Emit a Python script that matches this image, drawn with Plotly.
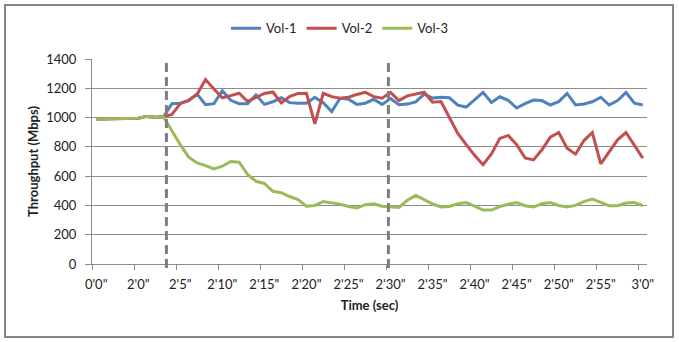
import plotly.graph_objects as go

# Category labels shown every fifth sample
tick_labels = ["0'0\"", "2'0\"", "2'5\"", "2'10\"", "2'15\"", "2'20\"", "2'25\"",
               "2'30\"", "2'35\"", "2'40\"", "2'45\"", "2'50\"", "2'55\"", "3'0\""]
samples_per_label = 5

# Throughput per sample (Mbps)
vol1 = [990, 990, 990, 990, 990, 995, 1008, 1002, 1005, 1095,
        1098, 1115, 1160, 1088, 1095, 1183, 1118, 1095, 1095, 1155,
        1090, 1108, 1135, 1102, 1098, 1098, 1138, 1102, 1041, 1132,
        1125, 1090, 1098, 1125, 1090, 1130, 1088, 1092, 1107, 1160,
        1133, 1139, 1135, 1085, 1072, 1120, 1172, 1103, 1142, 1118,
        1065, 1095, 1120, 1116, 1086, 1109, 1165, 1086, 1093, 1108,
        1139, 1086, 1116, 1172, 1098, 1086]
vol2 = [990, 990, 990, 990, 990, 995, 1008, 1002, 1005, 1022,
        1095, 1118, 1160, 1260, 1195, 1135, 1150, 1166, 1110, 1140,
        1165, 1175, 1100, 1143, 1165, 1166, 957, 1166, 1143, 1132,
        1139, 1158, 1173, 1143, 1132, 1172, 1116, 1148, 1160, 1173,
        1105, 1109, 1000, 892, 815, 742, 678, 752, 858, 878,
        815, 725, 711, 780, 866, 898, 791, 750, 843, 898,
        684, 768, 848, 898, 814, 723]
vol3 = [990, 990, 990, 990, 990, 995, 1008, 1002, 1005, 905,
        815, 730, 690, 672, 650, 668, 700, 695, 612, 565,
        550, 497, 487, 461, 440, 395, 400, 427, 420, 409,
        393, 382, 405, 411, 395, 393, 386, 435, 468, 440,
        410, 390, 393, 412, 420, 395, 368, 368, 392, 408,
        420, 398, 389, 411, 420, 400, 389, 400, 426, 443,
        420, 398, 398, 416, 420, 398]

# Sample positions of the two phase changes (dashed markers)
phase_marks = [8.35, 34.75]

series = [("Vol-1", vol1, "#4F81BD"),
          ("Vol-2", vol2, "#C0504D"),
          ("Vol-3", vol3, "#9BBB59")]

n = len(vol1)
x = list(range(n))
label_pos = x[::samples_per_label]
boundaries = [p - 0.5 for p in label_pos]

W, H = 679, 342
ML, MR, MT, MB = 92, 32, 59, 78
pw, ph = W - ML - MR, H - MT - MB

fig = go.Figure()
for name, vals, color in series:
    fig.add_trace(go.Scatter(x=x, y=vals, name=name, mode="lines",
                             line=dict(color=color, width=3)))

grid = "#8c8c8c"
font = "Lato, 'Open Sans', sans-serif"

for m in phase_marks:
    fig.add_shape(type="line", xref="x", yref="paper", x0=m, x1=m,
                  y0=-0.02, y1=1.0,
                  line=dict(color="#7f7f7f", width=3, dash="9px,5px"))

# outer chart frame
fig.add_shape(type="rect", xref="paper", yref="paper",
              x0=(5 - ML) / pw, x1=(W - 6 - ML) / pw,
              y0=-(H - 5 - (H - MB)) / ph, y1=(H - MB - 5) / ph,
              line=dict(color="#868686", width=2), fillcolor="rgba(0,0,0,0)")

# legend centred on the whole figure rather than the plot area
legend_x = (W / 2 - ML) / pw

fig.update_layout(
    width=W, height=H,
    margin=dict(l=ML, r=MR, t=MT, b=MB, autoexpand=False),
    paper_bgcolor="white", plot_bgcolor="white",
    font=dict(family=font, size=13, color="#222222"),
    showlegend=True,
    legend=dict(orientation="h", x=legend_x, xanchor="center",
                y=1.15, yanchor="middle", font=dict(size=13), itemwidth=30,
                bgcolor="rgba(0,0,0,0)"),
    xaxis=dict(
        range=[-0.5, n - 0.5],
        tickmode="array", tickvals=label_pos, ticktext=tick_labels,
        ticks="", showgrid=False, zeroline=False,
        showline=True, linecolor=grid, linewidth=1,
        ticklabelstandoff=8, tickangle=0,
        minor=dict(tickmode="array", tickvals=boundaries, ticks="outside",
                   ticklen=5, tickcolor=grid, tickwidth=1, showgrid=False),
        title=dict(text="<b>Time (sec)</b>", font=dict(size=13), standoff=10),
    ),
    yaxis=dict(
        range=[0, 1400], tickmode="linear", tick0=0, dtick=200,
        ticks="outside", ticklen=6, tickcolor=grid,
        showgrid=True, gridcolor=grid, gridwidth=1,
        showline=True, linecolor=grid, linewidth=1, zeroline=False,
        ticklabelstandoff=6, automargin=True,
        title=dict(text="<b>Throughput (Mbps)</b>", font=dict(size=13), standoff=4),
    ),
)

fig.write_html("out.html")
